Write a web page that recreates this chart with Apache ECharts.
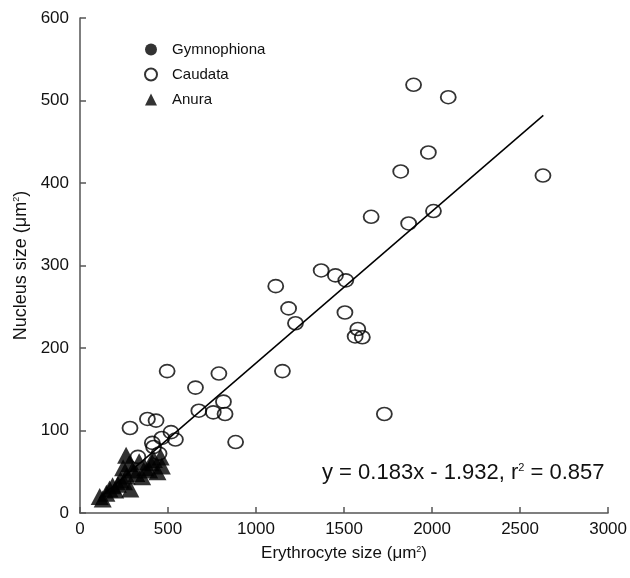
<!DOCTYPE html>
<html>
<head>
<meta charset="utf-8">
<script src="https://cdn.jsdelivr.net/npm/echarts@6/dist/echarts.min.js"></script>
<style>
  html, body { margin: 0; padding: 0; background: #fff; }
  #main { width: 630px; height: 578px; }
</style>
</head>
<body>
<div id="main"></div>
<script>
// values: [erythrocyte size, nucleus size]
const gymnophiona = [];
const caudata = [
  [1895, 519], [2092, 504], [1979, 437], [1822, 414], [2630, 409], [2008, 366], [1867, 351], [1654, 359],
  [1112, 275], [1370, 294], [1451, 288], [1510, 282], [1185, 248], [1224, 230], [1505, 243],
  [1578, 223], [1563, 214], [1604, 213], [1150, 172], [1729, 120],
  [495, 172], [789, 169], [656, 152], [815, 135], [675, 124], [757, 122], [824, 120], [884, 86],
  [284, 103], [383, 114], [432, 112], [517, 98], [542, 89], [465, 91], [411, 85], [418, 80],
  [449, 72], [329, 68]
];
const anura = [
  [112, 20], [129, 17], [150, 24], [168, 29], [185, 33], [200, 28], [215, 35], [230, 40],
  [250, 38], [265, 45], [286, 29], [298, 52], [262, 70], [245, 55], [280, 60], [320, 48],
  [336, 62], [353, 44], [370, 55], [393, 52], [402, 61], [420, 65], [440, 50], [458, 68], [465, 57]
];
const fitLine = [[110, 18], [2632, 482]];
const equationText = 'y = 0.183x - 1.932, r{sup|2} = 0.857';

const xTicks = { min: 0, max: 3000, interval: 500 };
const yTicks = { min: 0, max: 600, interval: 100 };

const chart = echarts.init(document.getElementById('main'));
const font = 'Liberation Sans, Arial, sans-serif';
const axisColor = '#555';

chart.setOption({
  animation: false,
  textStyle: { fontFamily: font },
  grid: { left: 80, right: 14, top: 18, bottom: 65 },
  legend: {
    orient: 'vertical',
    left: 139,
    top: 37,
    itemWidth: 12,
    itemHeight: 12,
    itemGap: 10,
    textStyle: { fontSize: 15, color: '#111', fontFamily: font, padding: [0, 0, 0, 10] },
    data: ['Gymnophiona', 'Caudata', 'Anura']
  },
  xAxis: {
    type: 'value',
    min: xTicks.min, max: xTicks.max, interval: xTicks.interval,
    name: 'Erythrocyte size (μm{sup|2})',
    nameLocation: 'middle',
    nameGap: 32,
    nameTextStyle: {
      fontSize: 17, color: '#111', fontFamily: font,
      rich: { sup: { fontSize: 9, verticalAlign: 'top', padding: [0, 0, 7, 0], color: '#111' } }
    },
    axisLine: { lineStyle: { color: axisColor, width: 1.5 } },
    axisTick: { inside: true, length: 6, lineStyle: { color: axisColor, width: 1.5 } },
    axisLabel: { fontSize: 17, color: '#111', margin: 8, fontFamily: font, formatter: v => String(v) },
    splitLine: { show: false }
  },
  yAxis: {
    type: 'value',
    min: yTicks.min, max: yTicks.max, interval: yTicks.interval,
    name: 'Nucleus size (μm{sup|2})',
    nameLocation: 'middle',
    nameGap: 50,
    nameTextStyle: {
      fontSize: 18, color: '#111', fontFamily: font,
      rich: { sup: { fontSize: 9, verticalAlign: 'top', padding: [0, 0, 8, 0], color: '#111' } }
    },
    axisLine: { show: true, lineStyle: { color: axisColor, width: 1.5 } },
    axisTick: { show: true, inside: true, length: 6, lineStyle: { color: axisColor, width: 1.5 } },
    axisLabel: { fontSize: 17, color: '#111', margin: 11, fontFamily: font },
    splitLine: { show: false }
  },
  graphic: [{
    type: 'text',
    left: 322,
    top: 462,
    style: {
      text: equationText,
      font: '22px ' + font,
      fill: '#111',
      rich: { sup: { fontSize: 11, verticalAlign: 'top', padding: [0, 0, 9, 0], fill: '#111' } }
    }
  }],
  series: [
    {
      name: 'Fit',
      type: 'line',
      data: fitLine,
      symbol: 'none',
      lineStyle: { color: '#000', width: 1.5 },
      z: 1
    },
    {
      name: 'Gymnophiona',
      type: 'scatter',
      data: gymnophiona,
      symbol: 'circle',
      symbolSize: 14,
      itemStyle: { color: '#000' }
    },
    {
      name: 'Caudata',
      type: 'scatter',
      data: caudata,
      symbol: 'circle',
      symbolSize: [15, 13],
      itemStyle: { color: 'rgba(255,255,255,0)', borderColor: '#000', borderWidth: 1.7 },
      z: 2
    },
    {
      name: 'Anura',
      type: 'scatter',
      data: anura,
      symbol: 'triangle',
      symbolSize: [18, 17],
      itemStyle: { color: '#000' },
      z: 3
    }
  ]
});
</script>
</body>
</html>
